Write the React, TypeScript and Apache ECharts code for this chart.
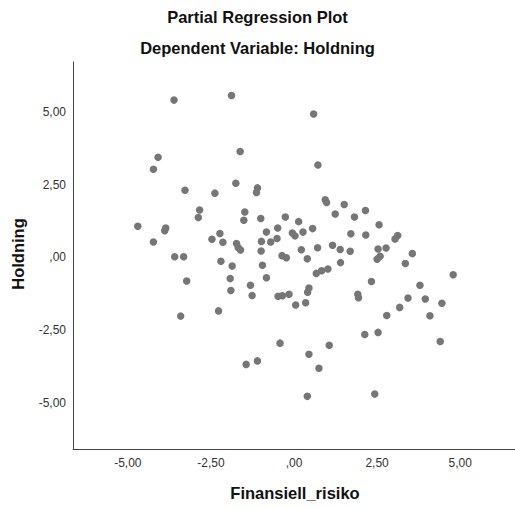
import React, { useEffect, useRef } from "react";
import * as echarts from "echarts";

const titleText = "Partial Regression Plot";
const subtitleText = "Dependent Variable: Holdning";
const xAxisTitle = "Finansiell_risiko";
const yAxisTitle = "Holdning";
const tickValues = [-5, -2.5, 0, 2.5, 5];

// Finansiell_risiko (residual)
const finansiellRisiko = [
  -3.61, -1.88, -1.62, -4.09, -4.23, -1.75, -1.10, -1.13, -3.28, -2.38,
  -2.84, -2.88, -1.48, -1.51, -1.00, -0.26, 0.14, -4.70, -3.86, -3.89,
  -4.23, -2.47, -2.23, -2.14, -1.73, -1.68, -1.61, -0.98, -0.83, -0.70,
  -0.51, -0.49, -0.05, 0.03, -0.99, -0.36, -0.23, 0.22, -3.59, -3.32,
  -2.20, 0.59, 0.72, 0.94, 0.98, 1.51, 1.24, 1.82, 2.15, 2.56,
  0.56, 0.27, 1.71, 2.16, 3.12, 3.04, 0.71, 1.16, 1.39, 1.69,
  2.53, 2.77, 3.56, 0.40, 2.59, 2.50, 3.35, 1.40, -1.86, -0.95,
  -3.23, -1.92, -0.83, -1.31, -1.90, -1.26, -0.48, -0.35, -0.15, 0.05,
  -3.41, -2.27, -0.42, -1.44, -1.10, 0.67, 0.83, 1.02, 4.79, 2.33,
  3.79, 0.45, 0.41, 1.92, 1.94, 3.43, 3.95, 4.45, 0.35, 3.18,
  2.79, 4.09, 2.13, 2.53, 4.40, 1.06, 0.45, 0.75, 0.40, 2.43,
];

// Holdning (residual)
const holdning = [
  5.41, 5.57, 3.64, 3.44, 3.03, 2.55, 2.39, 2.23, 2.31, 2.21,
  1.63, 1.37, 1.56, 1.28, 1.34, 1.39, 1.23, 1.07, 1.01, 0.92,
  0.53, 0.62, 0.82, 0.52, 0.48, 0.34, 0.25, 0.55, 0.87, 0.53,
  0.65, 1.01, 0.84, 0.74, 0.22, 0.06, -0.01, 0.26, 0.02, 0.02,
  -0.13, 4.93, 3.18, 1.98, 1.89, 1.82, 1.49, 1.39, 1.61, 1.12,
  0.99, 0.87, 0.81, 0.77, 0.75, 0.63, 0.33, 0.42, 0.27, 0.21,
  0.29, 0.32, 0.13, -0.05, 0.04, -0.06, -0.21, -0.18, -0.30, -0.27,
  -0.81, -0.73, -0.70, -0.96, -1.14, -1.31, -1.34, -1.32, -1.27, -1.64,
  -2.02, -1.84, -2.95, -3.68, -3.56, -0.55, -0.46, -0.40, -0.60, -0.83,
  -0.96, -1.05, -1.20, -1.27, -1.39, -1.40, -1.43, -1.58, -1.56, -1.72,
  -2.00, -2.01, -2.65, -2.58, -2.89, -3.02, -3.33, -3.81, -4.78, -4.70,
];

const fmt = (v: number) => (v === 0 ? ",00" : v.toFixed(2).replace(".", ","));
const FONT = "Arial, 'Liberation Sans', Helvetica, sans-serif";

export default function App() {
  const ref = useRef<HTMLDivElement>(null);
  useEffect(() => {
    if (!ref.current) return;
    const chart = echarts.init(ref.current, null, { renderer: "svg" });
    const points = finansiellRisiko.map((x, i) => [x, holdning[i]]);
    chart.setOption({
      animation: false,
      backgroundColor: "#ffffff",
      title: [
        {
          text: titleText,
          left: "center",
          top: 8,
          padding: 0,
          textStyle: { fontFamily: FONT, fontSize: 16.5, fontWeight: "bold", color: "#111" },
        },
        {
          text: subtitleText,
          left: "center",
          top: 39,
          padding: 0,
          textStyle: { fontFamily: FONT, fontSize: 16.5, fontWeight: "bold", color: "#111" },
        },
      ],
      grid: { left: 73, right: 0, top: 62, bottom: 60, containLabel: false },
      xAxis: {
        type: "value",
        min: -6.65,
        max: 6.65,
        splitLine: { show: false },
        axisTick: { show: false },
        axisLine: { onZero: false, lineStyle: { color: "#444", width: 1 } },
        axisLabel: {
          customValues: tickValues,
          formatter: fmt,
          margin: 8,
          fontFamily: FONT,
          fontSize: 12,
          color: "#333",
        },
      },
      yAxis: {
        type: "value",
        min: -6.59,
        max: 6.72,
        splitLine: { show: false },
        axisTick: { show: false },
        axisLine: { show: true, onZero: false, lineStyle: { color: "#444", width: 1 } },
        axisLabel: {
          customValues: tickValues,
          formatter: fmt,
          margin: 7,
          fontFamily: FONT,
          fontSize: 12,
          color: "#333",
        },
      },
      graphic: [
        {
          type: "text",
          x: 295,
          y: 493,
          style: {
            text: xAxisTitle,
            fontFamily: FONT,
            fontSize: 16.5,
            fontWeight: "bold",
            fill: "#111",
            align: "center",
            verticalAlign: "middle",
          },
        },
        {
          type: "text",
          x: 18,
          y: 254,
          rotation: Math.PI / 2,
          style: {
            text: yAxisTitle,
            fontFamily: FONT,
            fontSize: 16.5,
            fontWeight: "bold",
            fill: "#111",
            align: "center",
            verticalAlign: "middle",
          },
        },
      ],
      series: [
        {
          type: "scatter",
          data: points,
          symbol: "circle",
          symbolSize: 7.5,
          itemStyle: { color: "#767676", opacity: 1 },
          emphasis: { disabled: true },
        },
      ],
    });
    return () => chart.dispose();
  }, []);
  return (
    <div
      ref={ref}
      style={{ position: "fixed", left: 0, top: 0, width: 515, height: 509, background: "#fff" }}
    />
  );
}
